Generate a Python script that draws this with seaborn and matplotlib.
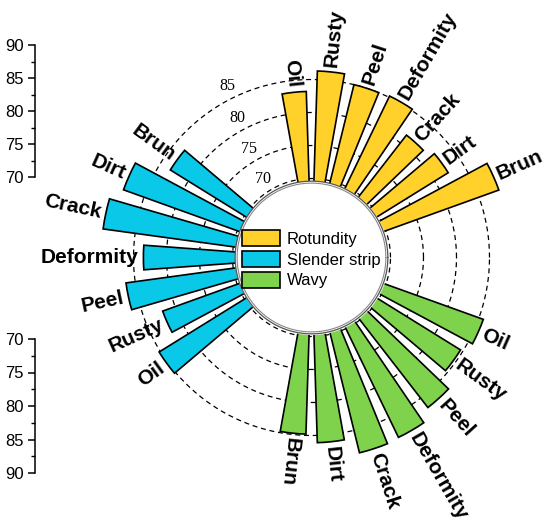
import numpy as np
import matplotlib
matplotlib.use('Agg')
import matplotlib.pyplot as plt
import seaborn as sns
from matplotlib.patches import Patch
from matplotlib.ticker import MultipleLocator

# valores
categories = ['Oil', 'Rusty', 'Peel', 'Deformity', 'Crack', 'Dirt', 'Brun']
rotundity = [83.2, 86.3, 85.0, 85.2, 81.5, 82.4, 88.2]
slender_strip = [85.2, 82.0, 86.4, 83.5, 89.9, 88.3, 83.2]
wavy = [85.7, 84.6, 86.8, 88.3, 88.5, 86.1, 84.8]
groups = ['Rotundity', 'Slender strip', 'Wavy']
colors = ['#FFD12A', '#0AC8E8', '#7ED24C']
grid_values = [70, 75, 80, 85]
axis_ticks = [70, 75, 80, 85, 90]

sns.set_theme(style='ticks')
plt.rcParams['font.family'] = ['Liberation Sans', 'DejaVu Sans']
plt.rcParams['text.color'] = 'black'

W, H = 550, 527
fig = plt.figure(figsize=(W / 100, H / 100), dpi=100)

# eje polar: r=70 a 79 px del centro, 6.6 px por unidad
px_unit = 6.6
r0 = 70 - 79 / px_unit
rmax = 95
R = (rmax - r0) * px_unit
cx, cy = 311.5, 257.5
ax = fig.add_axes([(cx - R) / W, (H - cy - R) / H, 2 * R / W, 2 * R / H], polar=True)
ax.set_ylim(r0, rmax)
ax.set_axis_off()

t = np.linspace(0, 2 * np.pi, 500)
for v in grid_values:
    ax.plot(t, np.full_like(t, v), color='black', lw=0.9, ls=(0, (4, 3)), zorder=1)
    ang = np.deg2rad(122 - 0.4 * (v - 70))
    ax.text(ang, v + 2, str(v), family='Liberation Serif', fontsize=11.5,
            color='black', ha='center', va='center')

base = 69.5
series = [rotundity, slender_strip, wavy]
centers = [60, 180, -60]
for vals, col, c in zip(series, colors, centers):
    ang_deg = c + 12 * (3 - np.arange(len(categories)))
    theta = np.deg2rad(ang_deg)
    vals = np.array(vals)
    ax.bar(theta, vals - base, bottom=base, width=np.deg2rad(8.4), color=col,
           edgecolor='black', linewidth=1.2, zorder=2, clip_on=False)
    for a, v, cat in zip(ang_deg, vals, categories):
        if 90 < a < 270:
            rot, ha = a - 180, 'right'
        else:
            rot, ha = a, 'left'
        ax.text(np.deg2rad(a), v + 0.7, cat, rotation=rot, rotation_mode='anchor',
                ha=ha, va='center', fontsize=15, fontweight='bold', color='black')

# circulo interior
ax.fill_between(t, r0, 69.6, color='white', zorder=3)
ax.plot(t, np.full_like(t, 69.6), color='#555555', lw=0.9, zorder=4)
ax.plot(t, np.full_like(t, 69.3), color='#888888', lw=0.8, zorder=4)

handles = [Patch(facecolor=c, edgecolor='black', linewidth=1.2, label=g)
           for g, c in zip(groups, colors)]
fig.legend(handles=handles, loc='center left',
           bbox_to_anchor=(241.7 / W, (H - 259.3) / H), frameon=False,
           fontsize=12, handlelength=2.3, handleheight=1.08, handletextpad=0.42,
           labelspacing=0.25, borderpad=0, borderaxespad=0, labelcolor='black')

# ejes lineales a la izquierda
for top_px, bot_px, inv in [(45, 177, False), (339, 473, True)]:
    la = fig.add_axes([35 / W, (H - bot_px) / H, 0.02, (bot_px - top_px) / H])
    la.set_facecolor('none')
    if inv:
        la.set_ylim(90, 70)
    else:
        la.set_ylim(70, 90)
    la.set_yticks(axis_ticks)
    la.yaxis.set_minor_locator(MultipleLocator(2.5))
    la.set_xticks([])
    sns.despine(ax=la, top=True, right=True, bottom=True)
    la.spines['left'].set_color('black')
    la.spines['left'].set_linewidth(1.1)
    la.tick_params(axis='y', which='major', left=True, direction='out', length=5,
                   width=1.1, colors='black', labelsize=12, pad=3)
    la.tick_params(axis='y', which='minor', left=True, direction='out', length=3,
                   width=1.0, colors='black')

fig.savefig('out.png', dpi=100)
